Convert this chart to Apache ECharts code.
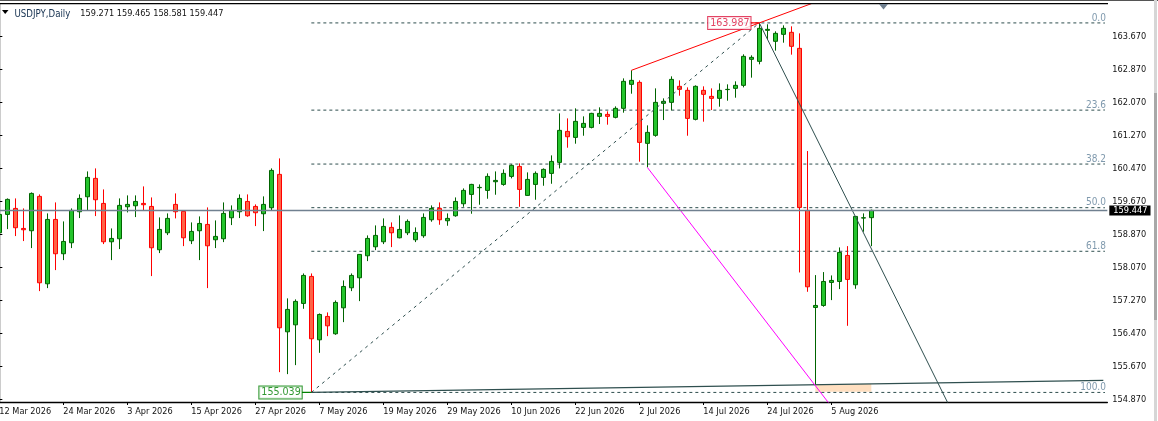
<!DOCTYPE html>
<html><head><meta charset="utf-8">
<style>html,body{margin:0;padding:0;background:#fff}#c{width:1158px;height:421px}</style>
<script src="https://cdn.jsdelivr.net/npm/echarts@6/dist/echarts.min.js"></script>
</head><body><div id="c"></div>
<script>
const tickDates=['12 Mar 2026','24 Mar 2026','3 Apr 2026','15 Apr 2026','27 Apr 2026','7 May 2026','19 May 2026','29 May 2026','10 Jun 2026','22 Jun 2026','2 Jul 2026','14 Jul 2026','24 Jul 2026','5 Aug 2026'];
const priceTicks=[154.87,155.67,156.47,157.27,158.07,158.87,159.67,160.47,161.27,162.07,162.87,163.67];
const opens=[158.905,159.35,159.495,159.01,158.954,159.786,157.67,159.228,158.397,158.663,159.414,159.777,160.222,159.616,158.687,158.76,159.535,159.559,159.616,159.543,158.494,158.905,159.592,159.422,158.712,158.954,159.107,158.736,158.76,159.269,159.414,159.664,159.543,159.366,159.511,160.319,156.507,156.676,157.194,157.848,156.313,156.879,156.459,157.088,157.573,157.815,158.348,158.566,158.687,159.035,158.784,158.905,158.736,158.833,159.22,159.495,159.196,159.317,159.608,159.834,159.996,159.931,160.141,160.076,160.27,160.512,159.81,160.076,160.246,160.343,160.609,161.36,161.215,161.457,161.457,161.724,161.772,161.7,161.918,162.499,162.547,161.07,161.264,162.039,162.063,162.451,162.354,161.651,162.354,162.208,162.16,162.372,162.402,162.475,163.105,163.056,163.807,163.541,163.71,163.759,163.371,159.446,157.097,157.145,157.702,157.726,158.356,157.646,159.261,159.271];
const closes=[159.35,159.713,159.027,158.978,159.858,157.694,159.228,158.397,158.695,159.446,159.737,160.246,159.705,158.687,158.768,159.568,159.592,159.664,159.584,158.542,158.986,159.253,159.414,158.784,158.938,159.131,158.59,158.817,159.374,159.446,159.737,159.317,159.39,159.592,160.415,156.604,157.049,157.243,157.872,156.338,156.927,156.652,157.218,157.605,157.872,158.381,158.768,158.841,159.059,158.905,158.986,159.18,158.913,159.277,159.495,159.22,159.253,159.664,159.931,160.076,160.004,160.27,160.173,160.343,160.537,159.955,160.197,160.343,160.44,160.633,161.385,161.231,161.603,161.554,161.796,161.796,161.724,161.918,162.572,162.596,161.094,161.336,162.063,162.087,162.62,162.378,161.675,162.451,162.257,162.16,162.354,162.378,162.475,163.177,163.153,163.856,163.831,163.734,163.856,163.42,159.519,157.597,157.145,157.726,157.751,158.429,157.775,159.301,159.269,159.447];
const lows=[158.728,158.994,158.825,158.704,158.534,157.492,157.565,158.001,158.243,158.534,159.261,159.438,159.309,158.631,158.243,158.51,159.398,159.285,159.446,157.856,158.413,158.849,159.253,158.582,158.631,158.243,157.565,158.534,158.679,159.091,159.261,159.293,159.067,158.946,159.438,155.53,155.482,155.7,157.064,155.039,155.998,156.402,156.434,156.741,157.492,157.25,158.219,158.485,158.631,158.558,158.77,158.849,158.679,158.784,159.172,159.099,159.075,159.293,159.535,159.366,159.584,159.729,159.826,160.044,160.222,159.535,159.8,159.705,160.044,160.092,160.464,160.965,161.062,161.255,161.433,161.538,161.522,161.675,161.813,162.273,160.626,160.488,161.231,161.635,161.869,162.224,161.255,161.627,161.595,161.877,161.958,162.103,162.176,162.426,162.661,162.984,163.589,163.315,163.508,163.218,157.944,157.476,155.239,157.113,157.274,157.541,156.652,157.549,158.93,158.581];
const highs=[159.697,159.737,159.737,159.495,159.882,159.834,159.374,159.64,159.18,159.495,159.834,160.391,160.464,159.955,159.01,159.737,159.81,159.81,160.028,159.761,159.277,159.374,159.858,159.43,159.156,159.301,159.519,159.204,159.64,159.568,159.834,159.834,159.592,159.786,160.464,160.706,157.316,157.292,157.92,157.92,156.951,156.976,157.266,157.751,157.92,158.39,158.841,159.083,159.253,159.156,159.325,159.228,159.035,159.374,159.568,159.64,159.374,159.761,159.979,160.09,160.076,160.343,160.391,160.44,160.561,160.585,160.367,160.391,160.464,160.779,161.796,161.675,161.918,161.724,161.81,161.942,161.845,161.966,162.644,162.838,162.596,161.506,162.402,162.16,162.693,162.596,162.426,162.475,162.451,162.402,162.523,162.499,162.572,163.226,163.202,163.987,163.953,163.783,163.928,163.904,163.734,160.884,157.88,157.953,157.872,158.55,158.582,159.31,159.374,159.465];
const fibLabels=['0.0','23.6','38.2','50.0','61.8','100.0'];
const fibPrices=[163.987,161.875,160.569,159.513,158.457,155.039];
const headerOHLC=['159.271','159.465','158.581','159.447'];
const symbolName='USDJPY,Daily';
const lastPrice=159.447, swingHigh=163.987, swingLow=155.039;
const fibDiagonal=[[39,155.039],[95,163.987]];
const tealRay=[[39,155.039],[138,155.329]];
const redRay=[[79,162.838],[110,165.064]];
const slateRay=[[95,163.987],[125,152.27]];
const magentaRay=[[81,160.488],[110,153.19]];
const zone=[[102,155.24],[109,155.053]];

const SLATE='#2F4F4F', FONT='"DejaVu Sans Condensed","DejaVu Sans",sans-serif';
const BAR_COUNT=139;
const cats=Array.from({length:BAR_COUNT},(_,i)=>(i%8===0&&tickDates[i/8])?tickDates[i/8]:'b'+i);
const showTick=i=>i%8===0&&i/8<tickDates.length;
const candleData=opens.map((o,i)=>[o,closes[i],lows[i],highs[i]]);
const ray=(data,color,extra)=>Object.assign({type:'line',xAxisIndex:1,data,symbol:'none',silent:true,z:4,animation:false,
  lineStyle:{color,width:1}},extra||{});
const chart=echarts.init(document.getElementById('c'),null,{renderer:'canvas'});
const series=[];
fibPrices.forEach(p=>series.push(ray([[39,p],[138.2,p]],SLATE,{z:1,lineStyle:{color:SLATE,width:1,type:[3,3]}})));
series.push({type:'line',xAxisIndex:1,data:[],symbol:'none',z:1,silent:true,animation:false,
  markLine:{silent:true,symbol:'none',animation:false,precision:3,
    lineStyle:{color:'#708090',width:1.4,type:'solid'},
    label:{show:true,position:'end',distance:2,formatter:()=>lastPrice.toFixed(3),color:'#fff',backgroundColor:'#000',
      padding:[1,3,0,4],fontFamily:FONT,fontSize:9.2},
    data:[{yAxis:lastPrice}]},
  markArea:{silent:true,animation:false,itemStyle:{color:'#FFDFC0'},
    data:[[{xAxis:zone[0][0],yAxis:zone[0][1]},{xAxis:zone[1][0],yAxis:zone[1][1]}]]}});
series.push(ray(fibDiagonal,SLATE,{lineStyle:{color:SLATE,width:1,type:[3,4]}}));
series.push(ray(tealRay,SLATE,{lineStyle:{color:SLATE,width:1.2}}));
series.push({type:'candlestick',name:'USDJPY',data:candleData,barWidth:4.6,z:3,animation:false,silent:true,
  itemStyle:{color:'#24C42C',color0:'#FF6347',borderColor:'#006400',borderColor0:'#FF0000',borderColorDoji:'#006400',borderWidth:1}});
series.push(ray(redRay,'#FF0000'));
series.push(ray(slateRay,SLATE));
series.push(ray(magentaRay,'#FF00FF'));
series.push(ray([[37.8,swingLow],[39,swingLow]],'#008000',{lineStyle:{color:'#008000',width:1.2}}));
series.push(ray([[93.9,swingHigh],[95,swingHigh]],'#FF0000',{lineStyle:{color:'#FF0000',width:1.2}}));
series.push({type:'scatter',xAxisIndex:1,symbolSize:0,silent:true,z:6,animation:false,
  data:fibPrices.map((p,i)=>({value:[138.2,p],label:{formatter:fibLabels[i]}})),
  label:{show:true,position:'top',distance:2,align:'right',offset:[1,2],color:'#5F7F98',fontFamily:FONT,fontSize:10}});
series.push({type:'scatter',xAxisIndex:1,symbolSize:0,silent:true,z:6,animation:false,
  data:[{value:[93.9,swingHigh],label:{formatter:swingHigh.toFixed(3),color:'#DC143C',borderColor:'#DC143C'}},
        {value:[37.8,swingLow],label:{formatter:swingLow.toFixed(3),color:'#008000',borderColor:'#008000'}}],
  label:{show:true,position:'left',distance:0,backgroundColor:'#fff',borderWidth:1,padding:[1,1,0,2],fontFamily:FONT,fontSize:10.6}});
chart.setOption({
  backgroundColor:'#fff',animation:false,
  title:{left:9.5,top:0,text:'{a|'+symbolName+'}  {b|'+headerOHLC.join(' ')+'}',
    textStyle:{fontWeight:'normal',rich:{a:{color:'#14304F',fontWeight:'normal',fontFamily:FONT,fontSize:9.6},b:{color:'#111',fontWeight:'normal',fontFamily:FONT,fontSize:9.1}}}},
  grid:{left:-4.67,width:1112,top:3.5,height:398.5,containLabel:false,outerBoundsMode:'none'},
  xAxis:[{type:'category',data:cats,boundaryGap:true,position:'bottom',
      axisLine:{lineStyle:{color:'#000',width:1.4}},
      axisTick:{show:true,alignWithLabel:true,interval:showTick,length:3,lineStyle:{color:'#000',width:1}},
      axisLabel:{interval:showTick,align:'left',margin:5,color:'#111',fontFamily:FONT,fontSize:9.1,hideOverlap:false},
      splitLine:{show:false}},
    {type:'value',min:-0.5,max:138.5,show:false,splitLine:{show:false}}],
  yAxis:{type:'value',position:'right',min:154.807,max:164.457,scale:true,
    axisLine:{show:true,lineStyle:{color:'#000',width:1.4}},
    axisTick:{show:true,length:3,customValues:priceTicks,lineStyle:{color:'#000',width:1}},
    axisLabel:{margin:5,color:'#111',fontFamily:FONT,fontSize:9.1,verticalAlign:'top',padding:[-4,0,0,0],customValues:priceTicks,formatter:v=>v.toFixed(3),showMinLabel:true,showMaxLabel:true},
    splitLine:{show:false}},
  graphic:[
    {type:'rect',shape:{x:0,y:0,width:1158,height:1},style:{fill:'#555'},silent:true,z:100},
    {type:'rect',shape:{x:0,y:3,width:1108,height:1.2},style:{fill:'#000'},silent:true,z:100},
    {type:'rect',shape:{x:1154,y:0,width:3,height:421},style:{fill:'#D6D6D6'},silent:true,z:100},
    {type:'rect',shape:{x:1154,y:93,width:3,height:227},style:{fill:'#A8A8A8'},silent:true,z:100},
    {type:'polygon',shape:{points:[[879,4],[888,4],[883.5,9.5]]},style:{fill:'#708090'},silent:true,z:100},
    {type:'polygon',shape:{points:[[2,10],[8.5,10],[5.2,14]]},style:{fill:'#000'},silent:true,z:100}
  ],
  series
});
</script></body></html>
